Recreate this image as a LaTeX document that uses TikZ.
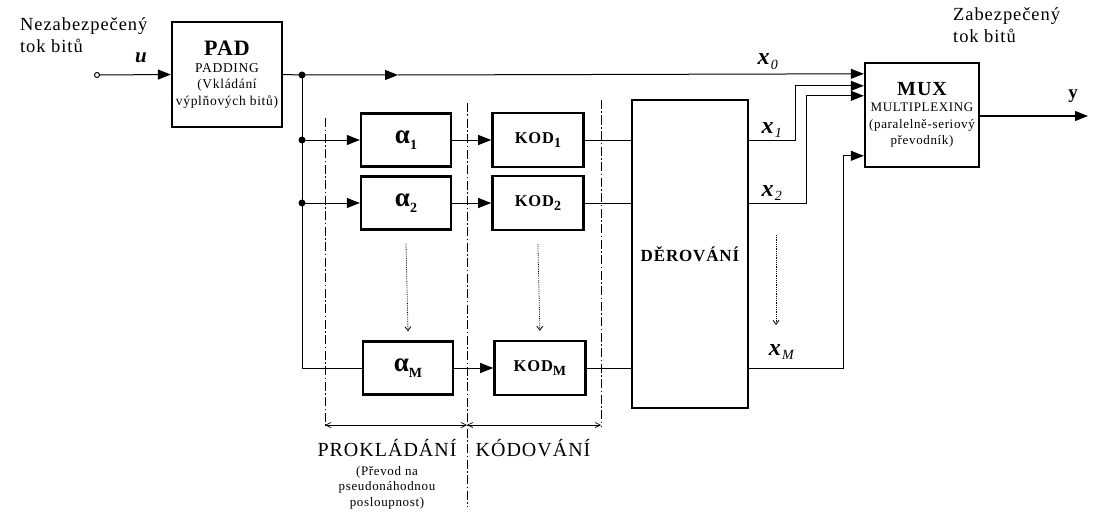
\documentclass[tikz,border=0pt]{standalone}
\usepackage{fontspec}
\setmainfont{Liberation Serif}[LetterSpace=5]
\usetikzlibrary{arrows.meta,positioning,calc}
\newcommand{\subidx}[1]{\raisebox{-0.45ex}{\fontsize{14}{14}\selectfont #1}}

\begin{document}
\begin{tikzpicture}[x=1pt,y=-1pt,node distance=39pt,
    blk/.style={draw,line width=2.4pt,align=center,inner sep=0pt},
    abox/.style={blk,minimum width=90pt,minimum height=53pt,font=\fontsize{27}{27}\selectfont\bfseries},
    kbox/.style={blk,minimum width=91pt,minimum height=54pt,font=\fontsize{16.5}{17}\selectfont\bfseries},
    ln/.style={line width=1pt},
    arr/.style={-{Triangle[length=13pt,width=10pt]}},
    sep/.style={line width=0.8pt,dash pattern=on 9pt off 2.5pt on 1.5pt off 2.5pt},
    dots/.style={densely dotted,line width=0.8pt,-{Straight Barb[length=4pt,width=6pt]}},
    dim/.style={line width=0.7pt,{Straight Barb[length=5pt,width=5pt]}-{Straight Barb[length=5pt,width=5pt]}},
    jn/.style={circle,fill,inner sep=0pt,minimum size=7pt},
    lbl/.style={font=\fontsize{18.5}{22}\selectfont},
    xlbl/.style={font=\fontsize{24}{24}\selectfont}]
  \useasboundingbox (0,0) rectangle (1096,519);

  % texts at the ends
  \node[lbl,align=left,anchor=north west,inner sep=0pt] (src) at (20,17) {Nezabezpečený\\tok bitů};
  \node[lbl,align=left,anchor=north west,inner sep=0pt] (dst) at (953,7) {Zabezpečený\\tok bitů};

  % main blocks
  \node[blk,minimum width=110pt,minimum height=105pt,font=\fontsize{13.5}{16.5}\selectfont] (pad) at (227,74.5)
    {{\fontsize{22}{22}\selectfont\bfseries PAD}\\PADDING\\(Vkládání\\výplňových bitů)};
  \node[blk,minimum width=114pt,minimum height=104pt,font=\fontsize{13}{16.5}\selectfont] (mux) at (922,115)
    {{\fontsize{20}{22}\selectfont\bfseries MUX}\\MULTIPLEXING\\(paralelně-seriový\\převodník)};
  \node[blk,minimum width=116pt,minimum height=308pt,font=\fontsize{17}{20}\selectfont\bfseries] (der) at (690,254) {DĚROVÁNÍ};

  \node[abox] (a1) at (406,140) {α\subidx{1}};
  \node[abox] (a2) at (406,203) {α\subidx{2}};
  \node[abox] (aM) at (408,368) {α\subidx{M}};
  \node[kbox,right=of a1] (k1) {KOD\subidx{1}};
  \node[kbox,right=of a2] (k2) {KOD\subidx{2}};
  \node[kbox,right=of aM] (kM) {KOD\subidx{M}};

  % input
  \node[circle,draw,line width=1pt,inner sep=0pt,minimum size=5pt] (in) at (97,75) {};
  \draw[ln,arr] (in) -- (pad.west);
  \node[font=\fontsize{21}{21}\selectfont\bfseries\itshape] (u) at (141,58) {u};

  % distribution
  \node[jn] (j0) at (302,75) {};
  \node[jn] (j1) at (302,140) {};
  \node[jn] (j2) at (302,203) {};
  \coordinate (xm) at (398,75);
  \coordinate (m0) at ($(mux.north west)+(0,12)$);
  \coordinate (m1) at ($(mux.north west)+(0,24)$);
  \coordinate (m2) at ($(mux.north west)+(0,34)$);
  \coordinate (mM) at ($(mux.north west)+(0,94)$);
  \draw[ln,arr] (pad.east) -- (j0.center) -- (xm);
  \draw[ln,arr] (xm) -- (m0);
  \draw[ln] (j0.center) |- (aM.west);
  \draw[ln,arr] (j1.center) -- (a1.west);
  \draw[ln,arr] (j2.center) -- (a2.west);

  \draw[ln,arr] (a1.east) -- (k1.west);
  \draw[ln,arr] (a2.east) -- (k2.west);
  \draw[ln,arr] (aM.east) -- (kM.west);
  \draw[ln] (k1.east) -- (k1.east -| der.west);
  \draw[ln] (k2.east) -- (k2.east -| der.west);
  \draw[ln] (kM.east) -- (kM.east -| der.west);

  % outputs to MUX
  \draw[ln,arr] (k1.east -| der.east) -| ($(m1)+(-68,0)$) -- (m1);
  \draw[ln,arr] (k2.east -| der.east) -| ($(m2)+(-57,0)$) -- (m2);
  \draw[ln,arr] (kM.east -| der.east) -| ($(mM)+(-20,0)$) -- (mM);
  \coordinate (yout) at (1088,116);
  \draw[ln,arr] (mux.east |- yout) -- (yout);
  \node[font=\fontsize{19}{19}\selectfont\bfseries] (ylbl) at (1073,96) {y};

  \node[xlbl] (x0) at (768,62) {\textbf{\textit{x}}\subidx{\textit{0}}};
  \node[xlbl] (x1) at (772,130) {\textbf{\textit{x}}\subidx{\textit{1}}};
  \node[xlbl] (x2) at (772,193) {\textbf{\textit{x}}\subidx{\textit{2}}};
  \node[xlbl] (xM) at (782,352) {\textbf{\textit{x}}\subidx{\textit{M}}};

  % dotted continuation
  \draw[dots] ($(a2.south)+(0,13)$) -- ($(aM.north)+(0,-9)$);
  \draw[dots] ($(k2.south)+(0,13)$) -- ($(kM.north)+(0,-9)$);
  \draw[dots] (776,235) -- (776,325);

  % stage separators
  \draw[sep] (325,118) -- (325,427);
  \draw[sep] (467,103) -- (467,507);
  \draw[sep] (601,100) -- (601,427);
  \draw[dim] (325,425) -- (467,425);
  \draw[dim] (467,425) -- (601,425);

  \node[font=\fontsize{20}{22}\selectfont] (prok) at (387,448) {PROKLÁDÁNÍ};
  \node[font=\fontsize{20}{22}\selectfont] (kod) at (533,448) {KÓDOVÁNÍ};
  \node[below=6pt of prok,align=center,inner sep=0pt,font=\fontsize{13}{15.5}\selectfont] (prev)
    {(Převod na\\pseudonáhodnou\\posloupnost)};
\end{tikzpicture}
\end{document}
